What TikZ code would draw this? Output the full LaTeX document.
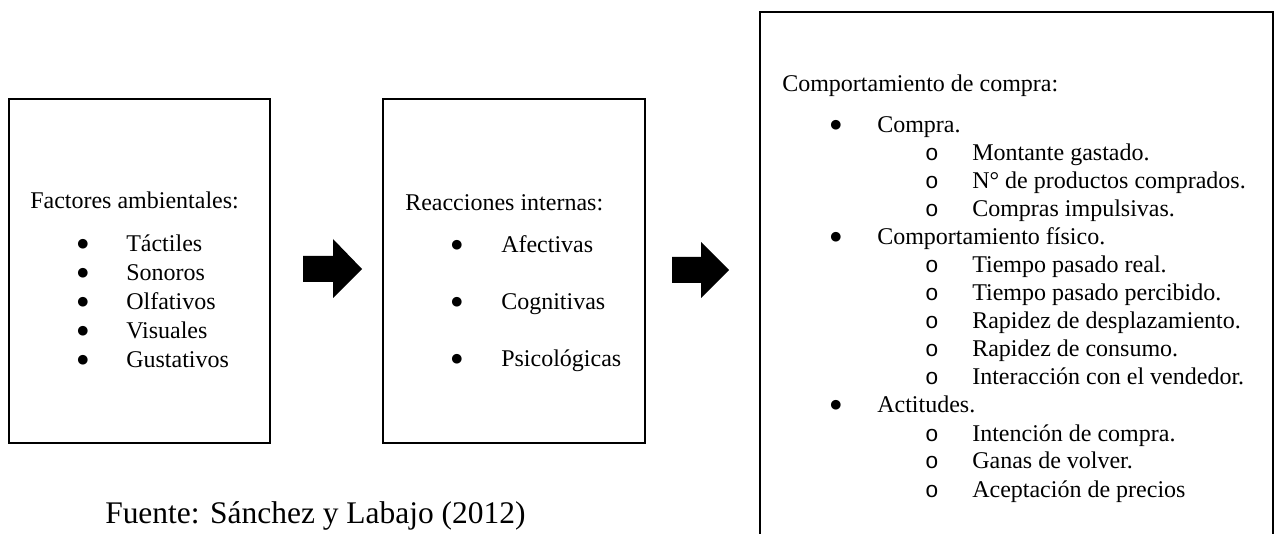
\documentclass[tikz,border=0pt]{standalone}
\usepackage{fontspec}
\setmainfont{Liberation Serif}
\newfontfamily\circfont{Liberation Mono}
\newfontfamily\dotfont{DejaVu Sans}
\begin{document}
\begin{tikzpicture}[x=0.75pt,y=-0.75pt,
  boxstyle/.style={draw=black, line width=1.8pt, fill=none, inner sep=0pt},
  txt/.style={anchor=base west, inner sep=0pt, font=\fontsize{18}{22}\selectfont},
  bul/.style={anchor=center, inner sep=0pt, yshift=6pt, font=\dotfont\fontsize{9.5}{11}\selectfont},
  circ/.style={anchor=base, inner sep=0pt, font=\circfont\fontsize{17}{22}\selectfont},
  blockarrow/.style={fill=black, draw=none}]
\useasboundingbox (0,0) rectangle (1278,534);
\clip (0,0) rectangle (1278,534);
\fill[white] (0,0) rectangle (1278,534);

% boxes
\node[boxstyle, minimum width=261*0.75pt, minimum height=344*0.75pt] (left) at (139.5,271) {};
\node[boxstyle, minimum width=262*0.75pt, minimum height=344*0.75pt] (mid) at (514,271) {};
\node[boxstyle, minimum width=513*0.75pt, minimum height=560*0.75pt] (right) at (1016.5,292) {};

% block arrows
\coordinate (a1) at (303,269);
\coordinate (a2) at (672,270);
\fill[blockarrow] (a1) ++(0,-13) -- ++(30,0) -- ++(0,-17) -- ++(29,30) -- ++(-29,29) -- ++(0,-16) -- ++(-30,0) -- cycle;
\fill[blockarrow] (a2) ++(0,-13) -- ++(29,0) -- ++(0,-15) -- ++(28,28) -- ++(-28,28) -- ++(0,-15) -- ++(-29,0) -- cycle;

% left box text
\node[txt] (lt) at (30,209) {Factores ambientales:};
\node[bul] (lb1) at (83,252) {●}; \node[txt] (l1) at (126,252) {Táctiles};
\node[bul] (lb2) at (83,281) {●}; \node[txt] (l2) at (126,281) {Sonoros};
\node[bul] (lb3) at (83,310) {●}; \node[txt] (l3) at (126,310) {Olfativos};
\node[bul] (lb4) at (83,339) {●}; \node[txt] (l4) at (126,339) {Visuales};
\node[bul] (lb5) at (83,368) {●}; \node[txt] (l5) at (126,368) {Gustativos};

% middle box text
\node[txt] (mt) at (405,211) {Reacciones internas:};
\node[bul] (mb1) at (457,253) {●}; \node[txt] (m1) at (501,253) {Afectivas};
\node[bul] (mb2) at (457,310) {●}; \node[txt] (m2) at (501,310) {Cognitivas};
\node[bul] (mb3) at (457,367) {●}; \node[txt] (m3) at (501,367) {Psicológicas};

% right box text
\node[txt] (rt) at (782,92) {Comportamiento de compra:};
\node[bul] (rb1) at (836,133) {●}; \node[txt] (r1) at (877,133) {Compra.};
\node[circ] (rc1) at (932,161) {o}; \node[txt] (r11) at (972,161) {Montante gastado.};
\node[circ] (rc2) at (932,189) {o}; \node[txt] (r12) at (972,189) {N° de productos comprados.};
\node[circ] (rc3) at (932,217) {o}; \node[txt] (r13) at (972,217) {Compras impulsivas.};
\node[bul] (rb2) at (836,245) {●}; \node[txt] (r2) at (877,245) {Comportamiento físico.};
\node[circ] (rc4) at (932,273) {o}; \node[txt] (r21) at (972,273) {Tiempo pasado real.};
\node[circ] (rc5) at (932,301) {o}; \node[txt] (r22) at (972,301) {Tiempo pasado percibido.};
\node[circ] (rc6) at (932,329) {o}; \node[txt] (r23) at (972,329) {Rapidez de desplazamiento.};
\node[circ] (rc7) at (932,357) {o}; \node[txt] (r24) at (972,357) {Rapidez de consumo.};
\node[circ] (rc8) at (932,385) {o}; \node[txt] (r25) at (972,385) {Interacción con el vendedor.};
\node[bul] (rb3) at (836,413) {●}; \node[txt] (r3) at (877,413) {Actitudes.};
\node[circ] (rc9) at (932,441) {o}; \node[txt] (r31) at (972,441) {Intención de compra.};
\node[circ] (rc10) at (932,469) {o}; \node[txt] (r32) at (972,469) {Ganas de volver.};
\node[circ] (rc11) at (932,497) {o}; \node[txt] (r33) at (972,497) {Aceptación de precios};

% source
\node[anchor=base west, inner sep=0pt, font=\fontsize{23.6}{28}\selectfont] (src) at (105,523) {Fuente: Sánchez y Labajo (2012)};
\end{tikzpicture}
\end{document}
